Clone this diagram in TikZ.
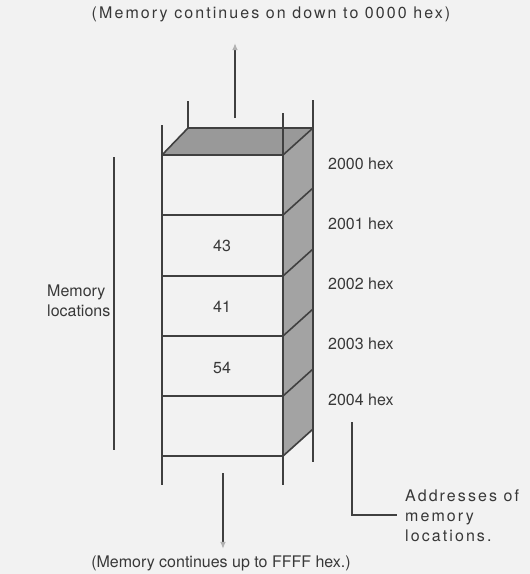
\documentclass[tikz,border=0pt]{standalone}
\usepackage{fontspec}
\setmainfont{TeX Gyre Heros}
\usetikzlibrary{arrows.meta}

\begin{document}
\begin{tikzpicture}[x=1pt, y=-1pt, every node/.style={font=\fontsize{16}{20}\selectfont, text=black!78, inner sep=0pt}, >={Latex[length=2.5mm, width=2mm, color=black!30]}, rail/.style={draw=black!75, line width=2.6pt}, edge/.style={draw=black!75, line width=1.6pt}, lead/.style={draw=black!75, line width=1.4pt}, lbl/.style={anchor=west, align=left}, wide/.style={font=\fontsize{16}{20}\selectfont\addfontfeatures{LetterSpace=13}}]
	\fill[black!5] (0,0) rectangle (530,574);
	\useasboundingbox (0,0) rectangle (530,574);
	% shaded top and side faces
	\fill[black!40] (162,155) -- (188,128) -- (313,128) -- (283,155) -- cycle;
	\fill[black!36] (283,155) -- (313,128) -- (313,430) -- (283,457) -- cycle;
	% cell edges
	\foreach \y in {155,215,276,336,396,456} {
		\draw[edge] (162,\y) -- (283,\y);
		\draw[edge] (283,\y) -- (313,{\y-27});
	}
	\draw[edge] (162,155) -- (188,128) -- (313,128);
	% rails
	\draw[rail] (162,125) -- (162,485);
	\draw[rail] (188,101) -- (188,128);
	\draw[rail] (283,113) -- (283,485);
	\draw[rail] (313,100) -- (313,462);
	% cell values
	\node (c2) at (222,246) {43};
	\node (c3) at (222,307) {41};
	\node (c4) at (222,368) {54};
	% addresses
	\foreach \a/\y in {2000/164,2001/224,2002/284,2003/344,2004/400}
		\node[lbl] (a\a) at (328,\y) {\a\ hex};
	% texts
	\node[wide] (top) at (271,14) {(Memory continues on down to 0000 hex)};
	\node (bot) at (221,563) {(Memory continues up to FFFF hex.)};
	\node[lbl] (loc) at (47,301) {Memory\\locations};
	\node[lbl, wide] (adr) at (405,516) {Addresses of\\memory\\locations.};
	% arrows and brackets
	\coordinate (upS) at (235,118);
	\coordinate (upE) at (235,43);
	\coordinate (dnS) at (223,473);
	\coordinate (dnE) at (223,549);
	\draw[lead, ->] (upS) -- (upE);
	\draw[lead, ->] (dnS) -- (dnE);
	\coordinate (bkT) at (114,157);
	\coordinate (bkB) at (114,450);
	\draw[lead] (bkT) -- (bkB);
	\coordinate (adT) at (352,422);
	\coordinate (adC) at (352,515);
	\coordinate (adE) at (397,515);
	\draw[lead] (adT) -- (adC) -- (adE);
\end{tikzpicture}
\end{document}
